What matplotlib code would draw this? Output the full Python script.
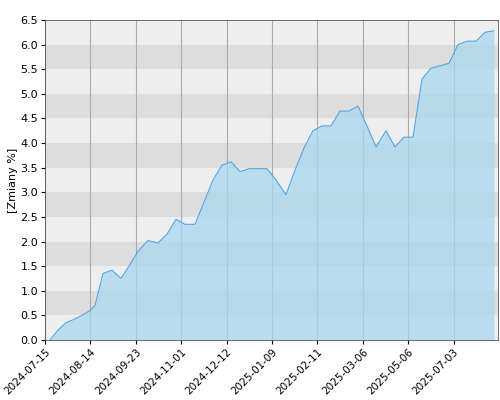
import matplotlib
matplotlib.use("Agg")
import matplotlib.pyplot as plt

tick_labels = ["2024-07-15","2024-08-14","2024-09-23","2024-11-01","2024-12-12",
               "2025-01-09","2025-02-11","2025-03-06","2025-05-06","2025-07-03"]
px = [50,58,66,74,82,90,95,103,112,121,129,138,148,158,167,176,185,195,204,213,222,231,
      240,249,258,267,276,286,295,304,313,322,331,340,349,358,367,376,386,395,404,413,422,
      431,440,449,458,467,476,485,494]
values = [0.0,0.2,0.35,0.42,0.5,0.6,0.7,1.35,1.42,1.25,1.5,1.8,2.02,1.97,2.15,2.45,2.35,2.35,
          2.8,3.25,3.55,3.62,3.42,3.48,3.48,3.48,3.25,2.95,3.45,3.9,4.25,4.35,4.35,4.65,4.65,
          4.75,4.35,3.92,4.25,3.92,4.12,4.12,5.3,5.52,5.57,5.62,6.0,6.07,6.07,6.25,6.28]
x_pos = [(p - 45) / 45.4 for p in px]

fig = plt.figure(figsize=(5, 4), dpi=100)
ax = fig.add_axes([0.09, 0.15, 0.906, 0.80])
for i in range(13):
    ax.axhspan(i*0.5, (i+1)*0.5, color="#eeeeee" if i % 2 == 0 else "#dddddd", zorder=0, lw=0)
for i in range(len(tick_labels)):
    ax.axvline(i, color="#aaaaaa", lw=0.8, zorder=1)
ax.fill_between(x_pos, values, 0, color="#a8d8ee", alpha=0.75, zorder=2, lw=0)
ax.plot(x_pos, values, color="#4da6e8", lw=0.8, zorder=3)
ax.set_xlim(0, (498-45)/45.4)
ax.set_ylim(0, 6.5)
ax.set_yticks([i*0.5 for i in range(14)])
ax.set_yticklabels([f"{i*0.5:.1f}" for i in range(14)], fontsize=8)
ax.set_xticks(range(len(tick_labels)))
ax.set_xticklabels(tick_labels, rotation=45, ha="right", fontsize=7.5, rotation_mode="anchor")
ax.set_ylabel("[Zmiany %]", fontsize=8, labelpad=2)
for s in ax.spines.values():
    s.set_color("#555555"); s.set_linewidth(0.6)
ax.tick_params(length=3, pad=2)
fig.savefig("out.png", dpi=100)
